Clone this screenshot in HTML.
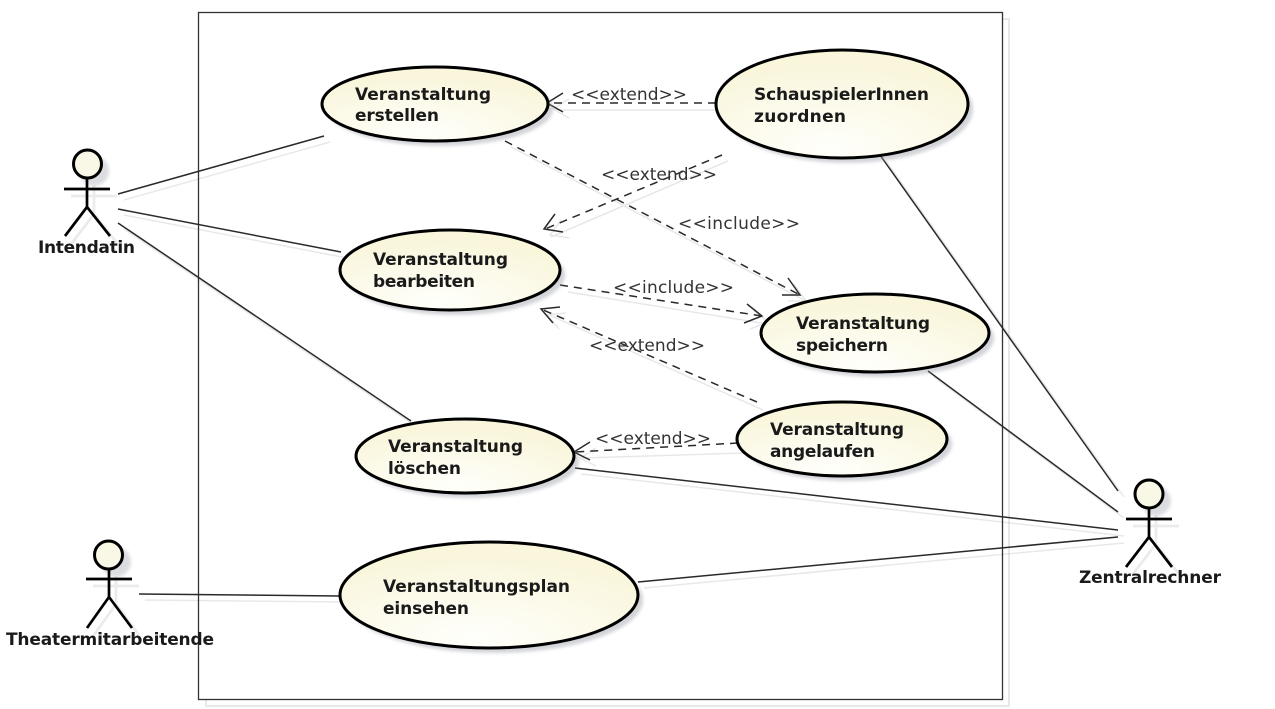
<!DOCTYPE html>
<html><head><meta charset="utf-8"><style>
html,body{margin:0;padding:0;background:#fff;width:1275px;height:709px;overflow:hidden}
svg{display:block}
text{font-family:"DejaVu Sans","Liberation Sans",sans-serif;fill:#1a1a1a}
.b{font-weight:bold;font-size:17px}
.l{font-size:17px;fill:#333}
.e{fill:url(#g);stroke:#000;stroke-width:3}
.s{fill:#8a8f9a;opacity:.38;filter:url(#bl)}
.c{stroke:#2a2a2a;stroke-width:1.5;fill:none}
.g{stroke:#000;stroke-width:1.5;fill:none;opacity:.09;transform:translate(6px,6px)}
.d{stroke:#2a2a2a;stroke-width:1.5;fill:none;stroke-dasharray:8 6}
.a{stroke:#2a2a2a;stroke-width:1.5;fill:none}
.ac{stroke:#000;stroke-width:2.7;fill:none}
.h{fill:#f9f8e6;stroke:#000;stroke-width:3}
.hs{fill:#8a8f9a;opacity:.3;filter:url(#bl)}
.as{stroke:#000;stroke-width:2.7;fill:none;opacity:.08;transform:translate(7px,7px)}
</style></head><body>
<svg width="1275" height="709" viewBox="0 0 1275 709" xmlns="http://www.w3.org/2000/svg">
<defs>
<radialGradient id="g" cx="0.45" cy="0.9" r="0.75"><stop offset="0" stop-color="#fffffb"/><stop offset="1" stop-color="#f9f6dc"/></radialGradient>
<filter id="bl"><feGaussianBlur stdDeviation="1.5"/></filter>
</defs>
<rect x="206" y="19" width="803" height="687" fill="none" stroke="#e8e8e8" stroke-width="2"/>
<rect x="198.500" y="12.500" width="804" height="687" fill="#fff" stroke="#333" stroke-width="1.3"/>

<g class="g">
<path d="M118 194L324 136M118 209L341 252M118 223L411 421M880 155L1118 491M928 371L1118 512M575 468L1118 530M638 582L1118 537M139 594L340 596"/>
<path d="M548 104H716M722 155L545 231M505 141L802 296M562 286L762 318M757 404L541 308M738 447L575 452"/>
<path d="M563 93L547 103L563 112M555 214L544 229L563 232M788 278L800 295L782 295M747 304L762 316L744 323M560 307L541 309L553 323M590 442L574 452L590 460"/>
</g>
<g class="c">
<path d="M118 194L324 136M118 209L341 252M118 223L411 421M880 155L1118 491M928 371L1118 512M575 468L1118 530M638 582L1118 537M139 594L340 596"/>
</g>
<g class="d">
<path d="M716 103H548"/><path d="M722 155L545 229"/><path d="M505 141L800 295"/><path d="M560 285L762 316"/><path d="M757 402L541 309"/><path d="M738 443L575 452"/>
</g>
<g class="a">
<path d="M563 93L547 103L563 112"/>
<path d="M555 214L544 229L563 232"/>
<path d="M788 278L800 295L782 295"/>
<path d="M747 304L762 316L744 323"/>
<path d="M560 307L541 309L553 323"/>
<path d="M590 442L574 452L590 460"/>
</g>

<ellipse class="s" cx="440" cy="109" rx="113" ry="37"/>
<ellipse class="e" cx="435" cy="104" rx="113" ry="37"/>
<ellipse class="s" cx="847" cy="109" rx="126" ry="54"/>
<ellipse class="e" cx="842" cy="104" rx="126" ry="54"/>
<ellipse class="s" cx="455" cy="275" rx="110" ry="40"/>
<ellipse class="e" cx="450" cy="270" rx="110" ry="40"/>
<ellipse class="s" cx="880" cy="338" rx="114" ry="39"/>
<ellipse class="e" cx="875" cy="333" rx="114" ry="39"/>
<ellipse class="s" cx="847" cy="444" rx="105" ry="37"/>
<ellipse class="e" cx="842" cy="439" rx="105" ry="37"/>
<ellipse class="s" cx="470" cy="461" rx="109" ry="37"/>
<ellipse class="e" cx="465" cy="456" rx="109" ry="37"/>
<ellipse class="s" cx="494" cy="600" rx="149" ry="53"/>
<ellipse class="e" cx="489" cy="595" rx="149" ry="53"/>

<text class="b" x="355" y="100" textLength="136">Veranstaltung</text><text class="b" x="355" y="121" textLength="84">erstellen</text>
<text class="b" x="754" y="100" textLength="175">SchauspielerInnen</text><text class="b" x="754" y="122" textLength="92">zuordnen</text>
<text class="b" x="373" y="265" textLength="135">Veranstaltung</text><text class="b" x="373" y="287" textLength="102">bearbeiten</text>
<text class="b" x="796" y="329" textLength="134">Veranstaltung</text><text class="b" x="796" y="351" textLength="92">speichern</text>
<text class="b" x="770" y="435" textLength="134">Veranstaltung</text><text class="b" x="770" y="457" textLength="105">angelaufen</text>
<text class="b" x="388" y="452" textLength="135">Veranstaltung</text><text class="b" x="388" y="474" textLength="73">löschen</text>
<text class="b" x="383" y="592" textLength="187">Veranstaltungsplan</text><text class="b" x="383" y="614" textLength="86">einsehen</text>

<text class="l" x="571" y="100" textLength="116">&lt;&lt;extend&gt;&gt;</text>
<text class="l" x="601" y="180" textLength="116">&lt;&lt;extend&gt;&gt;</text>
<text class="l" x="678" y="229" textLength="122">&lt;&lt;include&gt;&gt;</text>
<text class="l" x="613" y="293" textLength="121">&lt;&lt;include&gt;&gt;</text>
<text class="l" x="589" y="351" textLength="116">&lt;&lt;extend&gt;&gt;</text>
<text class="l" x="595" y="444" textLength="116">&lt;&lt;extend&gt;&gt;</text>

<g>
<path class="as" d="M87 178V207M64 189H110M87 207L65 236M87 207L110 236"/>
<circle class="hs" cx="94" cy="171" r="15"/>
<path class="ac" d="M87 178V207M64 189H110M87 207L65 236M87 207L110 236"/>
<circle class="h" cx="87.500" cy="164" r="14"/>
</g>
<g>
<path class="as" d="M109 569V597M86 579H132M109 597L87 628M109 597L132 628"/>
<circle class="hs" cx="116" cy="562" r="15"/>
<path class="ac" d="M109 569V597M86 579H132M109 597L87 628M109 597L132 628"/>
<circle class="h" cx="108.500" cy="555" r="14"/>
</g>
<g>
<path class="as" d="M1149 508V537M1126 519H1172M1149 537L1126 567M1149 537L1172 567"/>
<circle class="hs" cx="1156" cy="501" r="15"/>
<path class="ac" d="M1149 508V537M1126 519H1172M1149 537L1126 567M1149 537L1172 567"/>
<circle class="h" cx="1149" cy="494" r="14"/>
</g>

<text class="b" x="38" y="253" textLength="97">Intendatin</text>
<text class="b" x="6" y="645" textLength="208">Theatermitarbeitende</text>
<text class="b" x="1079" y="583" textLength="142">Zentralrechner</text>
</svg>
</body></html>
